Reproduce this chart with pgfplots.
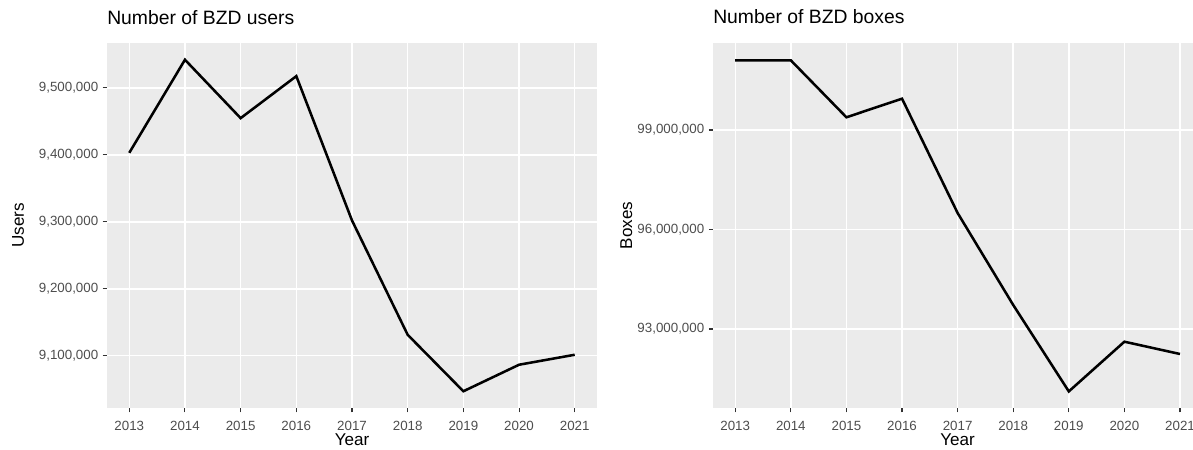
\documentclass[border=0pt]{standalone}
\usepackage{fontspec}
\setmainfont{Liberation Sans}
\usepackage{pgfplots}
\pgfplotsset{compat=1.18}
\definecolor{panelbg}{HTML}{EBEBEB}
\definecolor{ticklab}{HTML}{4D4D4D}
\definecolor{tickcol}{HTML}{333333}

\pgfplotsset{
  ggstyle/.style={
    scale only axis,
    anchor=south west,
    axis background/.style={fill=panelbg},
    axis line style={draw=none},
    grid=major,
    major grid style={white, line width=1.1pt},
    tick align=outside,
    xtick pos=bottom, ytick pos=left,
    major tick length=3.2pt,
    tick style={tickcol, line width=0.8pt},
    xtick={2013,2014,2015,2016,2017,2018,2019,2020,2021},
    scaled y ticks=false,
    /pgf/number format/assume math mode=true,
    xticklabel style={font=\fontsize{10}{12}\selectfont, text=ticklab, anchor=base, inner sep=0pt, yshift=-13.3pt, /pgf/number format/1000 sep={}},
    yticklabel style={font=\fontsize{10}{12}\selectfont, text=ticklab, anchor=east, inner sep=0pt, xshift=-3.2pt, /pgf/number format/fixed, /pgf/number format/precision=0, /pgf/number format/1000 sep={,}},
    title style={at={(axis description cs:0,1)}, anchor=base west, inner sep=0pt, yshift=8.25pt, font=\fontsize{14.5}{17}\selectfont},
    xlabel style={anchor=base, inner sep=0pt, font=\fontsize{12.8}{15}\selectfont},
    ylabel style={anchor=base, inner sep=0pt, font=\fontsize{12.8}{15}\selectfont},
    xlabel={Year},
  }
}

\begin{document}
\begin{tikzpicture}
\useasboundingbox (0,0) rectangle (894.75pt,337.5pt);

\begin{axis}[ggstyle,
  at={(80.25pt,31.5pt)},
  width=367.5pt, height=273.75pt,
  xmin=2012.6, xmax=2021.4,
  ymin=9022000, ymax=9567000,
  ytick={9100000,9200000,9300000,9400000,9500000},
  title={Number of BZD users},
  ylabel={Users},
  xlabel style={at={(axis description cs:0.5,0)}, yshift=-28.2pt},
  ylabel style={at={(axis description cs:-0.1694,0.5)}},
]
\addplot[black, line width=1.9pt] coordinates {
  (2013,9403000) (2014,9542000) (2015,9454800) (2016,9517500) (2017,9302000)
  (2018,9131300) (2019,9047000) (2020,9086600) (2021,9101500)
};
\end{axis}

\begin{axis}[ggstyle,
  at={(534.75pt,31.5pt)},
  width=360pt, height=273.75pt,
  xmin=2012.6, xmax=2021.234,
  ymin=90618000, ymax=101623000,
  ytick={93000000,96000000,99000000},
  title={Number of BZD boxes},
  ylabel={Boxes},
  xlabel style={at={(axis description cs:0.5094,0)}, yshift=-28.2pt},
  ylabel style={at={(axis description cs:-0.16875,0.5)}},
]
\addplot[black, line width=1.9pt] coordinates {
  (2013,101100000) (2014,101100000) (2015,99383000) (2016,99944000) (2017,96497000)
  (2018,93724000) (2019,91118000) (2020,92617000) (2021,92246000)
};
\end{axis}
\end{tikzpicture}
\end{document}
